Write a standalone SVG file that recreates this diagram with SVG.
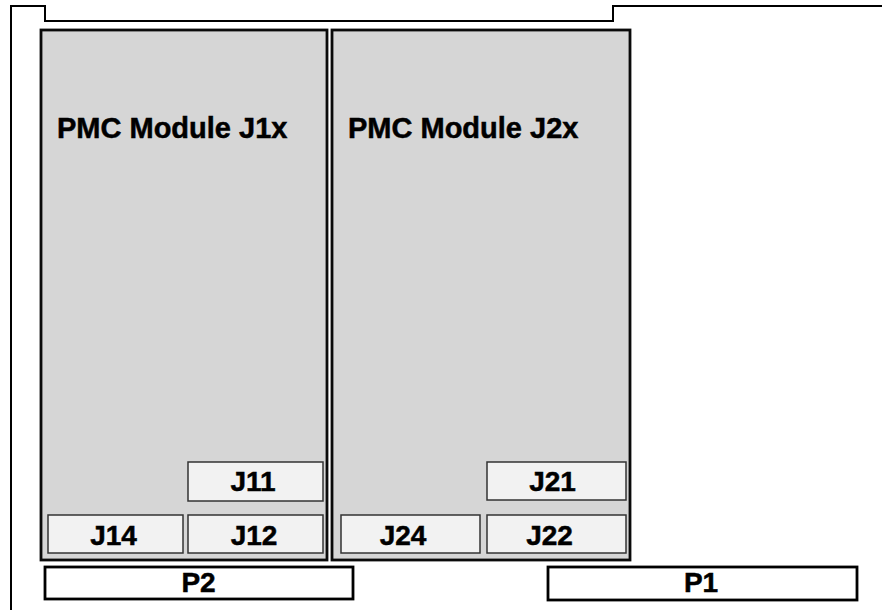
<svg xmlns="http://www.w3.org/2000/svg" width="882" height="610" viewBox="0 0 882 610">
<style>
.outline{fill:none;stroke:#000;stroke-width:2}
.mod{fill:#d6d6d6;stroke:#0a0a0a;stroke-width:2.8}
.j{fill:#f2f2f2;stroke:#333;stroke-width:1.5}
.p{fill:#fff;stroke:#000;stroke-width:2.8}
text{font-family:"Liberation Sans",Arial,Helvetica,sans-serif;font-weight:bold;fill:#000;stroke:#000;stroke-width:0.5}
.t{font-size:28px;text-anchor:middle}
.m{font-size:29px}
</style>
<g id="board">
<path class="outline" d="M11 610 V6 H45 V21 H613 V6 H882"/>
</g>
<g id="module-j1x">
<rect class="mod" x="41" y="30" width="286" height="530"/>
<text class="m" x="57" y="138">PMC Module J1x</text>
</g>
<g id="module-j2x">
<rect class="mod" x="332" y="30" width="298" height="530"/>
<text class="m" x="348" y="138">PMC Module J2x</text>
</g>
<g id="j11"><rect class="j" x="188" y="462" width="135" height="39"/><text class="t" x="253" y="491">J11</text></g>
<g id="j14"><rect class="j" x="48" y="515" width="135" height="38"/><text class="t" x="113.5" y="545">J14</text></g>
<g id="j12"><rect class="j" x="188" y="515" width="135" height="38"/><text class="t" x="254" y="545">J12</text></g>
<g id="j21"><rect class="j" x="487" y="462" width="139" height="38"/><text class="t" x="552.5" y="491">J21</text></g>
<g id="j24"><rect class="j" x="341" y="515" width="139" height="38"/><text class="t" x="403" y="545">J24</text></g>
<g id="j22"><rect class="j" x="487" y="515" width="139" height="38"/><text class="t" x="549.5" y="545">J22</text></g>
<g id="p2"><rect class="p" x="45" y="567" width="308" height="32"/><text class="t" x="198.5" y="592">P2</text></g>
<g id="p1"><rect class="p" x="548" y="567" width="309" height="33"/><text class="t" x="701" y="592">P1</text></g>
<g id="connectors"/>
</svg>
